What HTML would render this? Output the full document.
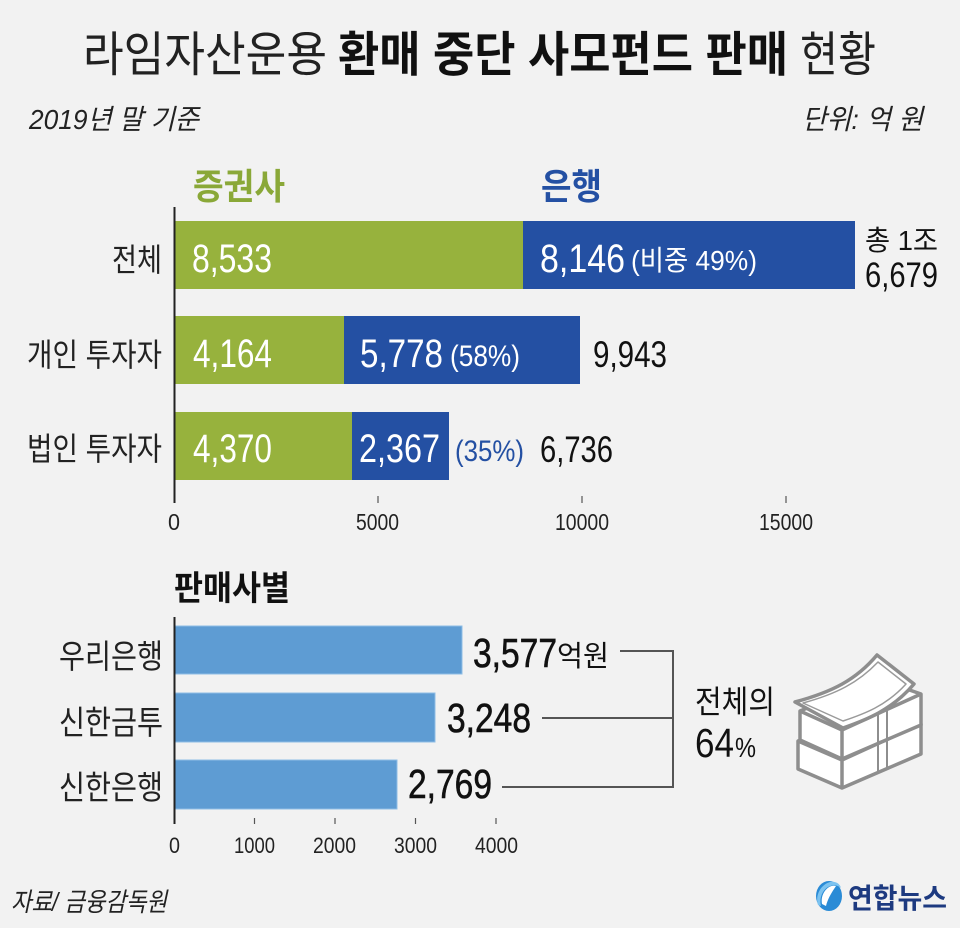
<!DOCTYPE html>
<html><head><meta charset="utf-8"><style>
html,body{margin:0;padding:0;background:#f2f2f2;}
svg{display:block;}
text{font-family:"Liberation Sans","Noto Sans CJK KR",sans-serif;}
</style></head><body>
<svg width="960" height="928" viewBox="0 0 960 928" xmlns="http://www.w3.org/2000/svg">
<rect x="0" y="0" width="960" height="928" fill="#f2f2f2"/>

<!-- Title -->
<text x="83" y="71" font-size="48" fill="#222" textLength="244" lengthAdjust="spacingAndGlyphs">라임자산운용</text>
<text x="338" y="71" font-size="48" font-weight="bold" fill="#111" textLength="450" lengthAdjust="spacingAndGlyphs">환매 중단 사모펀드 판매</text>
<text x="800" y="71" font-size="48" fill="#222" textLength="76" lengthAdjust="spacingAndGlyphs">현황</text>

<text x="29" y="129" font-size="28" font-style="italic" fill="#222" textLength="170" lengthAdjust="spacingAndGlyphs">2019년 말 기준</text>
<text x="802" y="129" font-size="28" font-style="italic" fill="#222" textLength="121" lengthAdjust="spacingAndGlyphs">단위: 억 원</text>

<!-- Legend -->
<text x="193" y="199" font-size="36" font-weight="bold" fill="#8aa838" textLength="92" lengthAdjust="spacingAndGlyphs">증권사</text>
<text x="541" y="199" font-size="36" font-weight="bold" fill="#2450a3" textLength="61" lengthAdjust="spacingAndGlyphs">은행</text>

<!-- Top chart bars -->
<rect x="175" y="221" width="348" height="68" fill="#97b23d"/>
<rect x="523" y="221" width="332" height="68" fill="#2450a3"/>
<rect x="175" y="316" width="169" height="68" fill="#97b23d"/>
<rect x="344" y="316" width="236" height="68" fill="#2450a3"/>
<rect x="175" y="412" width="177" height="68" fill="#97b23d"/>
<rect x="352" y="412" width="97" height="68" fill="#2450a3"/>

<!-- Top axis -->
<line x1="174.5" y1="207" x2="174.5" y2="503" stroke="#222" stroke-width="2"/>
<line x1="378" y1="496" x2="378" y2="503" stroke="#555" stroke-width="1.2"/>
<line x1="582" y1="496" x2="582" y2="503" stroke="#555" stroke-width="1.2"/>
<line x1="786" y1="496" x2="786" y2="503" stroke="#555" stroke-width="1.2"/>
<text x="168" y="530" font-size="23" fill="#222" textLength="12" lengthAdjust="spacingAndGlyphs">0</text>
<text x="356" y="530" font-size="23" fill="#222" textLength="43" lengthAdjust="spacingAndGlyphs">5000</text>
<text x="555" y="530" font-size="23" fill="#222" textLength="54" lengthAdjust="spacingAndGlyphs">10000</text>
<text x="759" y="530" font-size="23" fill="#222" textLength="54" lengthAdjust="spacingAndGlyphs">15000</text>

<!-- Row labels -->
<text x="112" y="271" font-size="32" fill="#222" textLength="50" lengthAdjust="spacingAndGlyphs">전체</text>
<text x="27" y="366" font-size="32" fill="#222" textLength="135" lengthAdjust="spacingAndGlyphs">개인 투자자</text>
<text x="27" y="460" font-size="32" fill="#222" textLength="135" lengthAdjust="spacingAndGlyphs">법인 투자자</text>

<!-- Values row 1 -->
<text x="192" y="272" font-size="40" fill="#fff" textLength="80" lengthAdjust="spacingAndGlyphs">8,533</text>
<text x="540" y="272" font-size="40" fill="#fff" textLength="85" lengthAdjust="spacingAndGlyphs">8,146</text>
<text x="631" y="270" font-size="28" fill="#fff" textLength="126" lengthAdjust="spacingAndGlyphs">(비중 49%)</text>
<text x="865" y="250" font-size="28" fill="#111" textLength="73" lengthAdjust="spacingAndGlyphs">총 1조</text>
<text x="865" y="287" font-size="35" fill="#111" textLength="73" lengthAdjust="spacingAndGlyphs">6,679</text>

<!-- Values row 2 -->
<text x="193" y="367" font-size="40" fill="#fff" textLength="79" lengthAdjust="spacingAndGlyphs">4,164</text>
<text x="360" y="367" font-size="40" fill="#fff" textLength="83" lengthAdjust="spacingAndGlyphs">5,778</text>
<text x="450" y="366" font-size="30" fill="#fff" textLength="70" lengthAdjust="spacingAndGlyphs">(58%)</text>
<text x="593" y="367" font-size="37" fill="#111" textLength="74" lengthAdjust="spacingAndGlyphs">9,943</text>

<!-- Values row 3 -->
<text x="193" y="462" font-size="40" fill="#fff" textLength="79" lengthAdjust="spacingAndGlyphs">4,370</text>
<text x="359" y="462" font-size="40" fill="#fff" textLength="81" lengthAdjust="spacingAndGlyphs">2,367</text>
<text x="455" y="461" font-size="30" fill="#2450a3" textLength="69" lengthAdjust="spacingAndGlyphs">(35%)</text>
<text x="540" y="462" font-size="37" fill="#111" textLength="73" lengthAdjust="spacingAndGlyphs">6,736</text>

<!-- Lower section -->
<text x="174" y="600" font-size="34" font-weight="bold" fill="#111" textLength="116" lengthAdjust="spacingAndGlyphs">판매사별</text>

<rect x="175" y="626" width="287" height="48" fill="#5e9cd3" stroke="#8fbde6" stroke-width="1"/>
<rect x="175" y="693" width="260" height="49" fill="#5e9cd3" stroke="#8fbde6" stroke-width="1"/>
<rect x="175" y="760" width="222" height="49" fill="#5e9cd3" stroke="#8fbde6" stroke-width="1"/>

<line x1="174.5" y1="617" x2="174.5" y2="824" stroke="#222" stroke-width="2"/>
<line x1="254.5" y1="818" x2="254.5" y2="824" stroke="#555" stroke-width="1.2"/>
<line x1="335" y1="818" x2="335" y2="824" stroke="#555" stroke-width="1.2"/>
<line x1="415.5" y1="818" x2="415.5" y2="824" stroke="#555" stroke-width="1.2"/>
<line x1="496" y1="818" x2="496" y2="824" stroke="#555" stroke-width="1.2"/>
<text x="169" y="853" font-size="22" fill="#222" textLength="11" lengthAdjust="spacingAndGlyphs">0</text>
<text x="234" y="853" font-size="22" fill="#222" textLength="41" lengthAdjust="spacingAndGlyphs">1000</text>
<text x="313" y="853" font-size="22" fill="#222" textLength="43" lengthAdjust="spacingAndGlyphs">2000</text>
<text x="394" y="853" font-size="22" fill="#222" textLength="43" lengthAdjust="spacingAndGlyphs">3000</text>
<text x="475" y="853" font-size="22" fill="#222" textLength="43" lengthAdjust="spacingAndGlyphs">4000</text>

<text x="59" y="668" font-size="33" fill="#222" textLength="104" lengthAdjust="spacingAndGlyphs">우리은행</text>
<text x="59" y="734" font-size="33" fill="#222" textLength="104" lengthAdjust="spacingAndGlyphs">신한금투</text>
<text x="59" y="799" font-size="33" fill="#222" textLength="104" lengthAdjust="spacingAndGlyphs">신한은행</text>

<text x="473" y="667" font-size="41" fill="#111" stroke="#111" stroke-width="0.6" textLength="84" lengthAdjust="spacingAndGlyphs">3,577</text>
<text x="557" y="666" font-size="29" fill="#111" textLength="52" lengthAdjust="spacingAndGlyphs">억원</text>
<text x="447" y="732" font-size="41" fill="#111" stroke="#111" stroke-width="0.6" textLength="84" lengthAdjust="spacingAndGlyphs">3,248</text>
<text x="408" y="798" font-size="41" fill="#111" stroke="#111" stroke-width="0.6" textLength="84" lengthAdjust="spacingAndGlyphs">2,769</text>

<!-- Connector lines -->
<polyline points="620,651 673,651 673,787 502,787" fill="none" stroke="#555" stroke-width="2"/>
<line x1="542" y1="718" x2="673" y2="718" stroke="#555" stroke-width="2"/>

<text x="695" y="713" font-size="32" fill="#111" textLength="80" lengthAdjust="spacingAndGlyphs">전체의</text>
<text x="695" y="757" font-size="41" fill="#111" textLength="39" lengthAdjust="spacingAndGlyphs">64</text>
<text x="735" y="757" font-size="28" fill="#111" textLength="21" lengthAdjust="spacingAndGlyphs">%</text>

<!-- Money icon -->
<g stroke="#8e8e8e" stroke-width="3.5" stroke-linejoin="round" fill="#fff">
  <polygon points="798,741 878,708 921,724 921,754 842,788 798,769"/>
  <polyline points="798,741 842,760 921,724" fill="none"/>
  <line x1="842" y1="760" x2="842" y2="788"/>
  <polygon points="800,711 878,679 921,694 921,725 842,759 800,740"/>
  <polyline points="800,711 842,730 921,694" fill="none"/>
  <line x1="842" y1="730" x2="842" y2="759"/>
</g>
<g stroke="#8e8e8e" stroke-width="2" fill="none">
  <line x1="878" y1="713" x2="878" y2="742"/>
  <line x1="887" y1="709" x2="887" y2="738"/>
  <line x1="878" y1="745" x2="878" y2="773"/>
  <line x1="887" y1="741" x2="887" y2="769"/>
  <line x1="878" y1="742" x2="887" y2="741"/>
</g>
<path d="M795,702 C832,692 856,680 877,655 L914,684 C892,710 866,720 843,728 Z" fill="#fff" stroke="#8e8e8e" stroke-width="3.5" stroke-linejoin="round"/>
<path d="M803,703 C836,694 858,683 878,662 L906,684 C886,706 864,714 843,721 Z" fill="none" stroke="#9a9a9a" stroke-width="1.5" stroke-linejoin="round"/>

<!-- Footer -->
<text x="11" y="911" font-size="26" font-style="italic" fill="#222" textLength="156" lengthAdjust="spacingAndGlyphs">자료/ 금융감독원</text>

<!-- Logo -->
<ellipse cx="829" cy="896" rx="13" ry="15" fill="#2a8bd6"/>
<path d="M822,904 C820,894 828,884 836,886 C832,892 828,898 826,906 Z" fill="#fff"/>
<path d="M818,905 C815,896 820,885 830,882 C836,881 840,884 841,888 C837,884 828,884 823,892 C820,897 820,902 821,906 Z" fill="#7cc3f0"/>
<text x="848" y="908" font-size="28" font-weight="bold" fill="#1d3a80" textLength="99" lengthAdjust="spacingAndGlyphs">연합뉴스</text>
</svg>
</body></html>
